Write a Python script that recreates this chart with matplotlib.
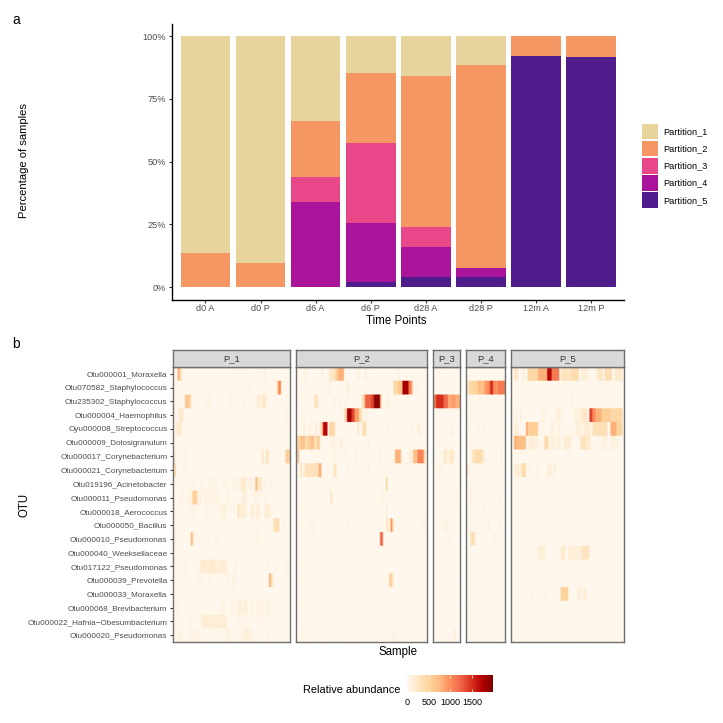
import numpy as np
import matplotlib
matplotlib.use("Agg")
import matplotlib.pyplot as plt
from matplotlib.colors import LinearSegmentedColormap
from matplotlib.patches import Patch

plt.rcParams['font.family'] = ['Liberation Sans', 'DejaVu Sans']

# top panel
time_points = ['d0 A', 'd0 P', 'd6 A', 'd6 P', 'd28 A', 'd28 P', '12m A', '12m P']
partition_1 = [86.3, 90.5, 34.0, 14.7, 16.0, 11.5, 0, 0]
partition_2 = [13.7, 9.5, 22.0, 27.8, 60.0, 80.8, 8.0, 8.3]
partition_3 = [0, 0, 10.0, 32.0, 8.0, 0, 0, 0]
partition_4 = [0, 0, 34.0, 23.5, 12.0, 3.7, 0, 0]
partition_5 = [0, 0, 0, 2.0, 4.0, 4.0, 92.0, 91.7]
partition_names = ['Partition_1', 'Partition_2', 'Partition_3', 'Partition_4', 'Partition_5']
partition_colors = ['#E6D49C', '#F59762', '#E8488A', '#A9149B', '#4F1D8B']

# bottom panel
otus = ['Otu000001_Moraxella', 'Otu070582_Staphylococcus', 'Otu235302_Staphylococcus',
        'Otu000004_Haemophilus', 'Oyu000008_Streptococcus', 'Otu000009_Dolosigranulum',
        'Otu000017_Corynebacterium', 'Otu000021_Corynebacterium', 'Otu019196_Acinetobacter',
        'Otu000011_Pseudomonas', 'Otu000018_Aerococcus', 'Otu000050_Bacillus',
        'Otu000010_Pseudomonas', 'Otu000040_Weeksellaceae', 'Otu017122_Pseudomonas',
        'Otu000039_Prevotella', 'Otu000033_Moraxella', 'Otu000068_Brevibacterium',
        'Otu000022_Hafnia\u2212Obesumbacterium', 'Otu000020_Pseudomonas']
panel_names = ['P_1', 'P_2', 'P_3', 'P_4', 'P_5']
panel_samples = [78, 88, 18, 26, 75]

# abundance per otu row, as runs of samples (first, last, abundance)
p1_runs = [
    [(3, 3, 800), (4, 4, 600), (5, 5, 250), (61, 61, 120), (40, 41, 20), (48, 49, 20), (55, 56, 20)],
    [(27, 27, 60), (69, 69, 300), (70, 71, 1000), (72, 72, 40), (44, 44, 30), (50, 51, 30), (58, 58, 30)],
    [(8, 8, 600), (9, 9, 650), (10, 10, 550), (11, 11, 450), (20, 21, 60), (23, 24, 70), (38, 39, 50), (42, 43, 50),
     (47, 48, 50), (56, 57, 200), (59, 61, 250)],
    [(4, 6, 220), (75, 75, 100)],
    [(2, 5, 200)],
    [],
    [(1, 1, 150), (8, 8, 150), (59, 60, 200), (62, 63, 290), (75, 77, 550)],
    [(1, 1, 500), (8, 8, 100)],
    [(12, 14, 40), (18, 20, 50), (24, 28, 40), (33, 36, 50), (40, 44, 50), (45, 48, 200), (50, 54, 60), (55, 55, 800),
     (56, 58, 250), (60, 61, 60), (64, 66, 40)],
    [(4, 6, 60), (10, 12, 70), (13, 15, 550), (16, 18, 90), (21, 24, 70), (26, 30, 80), (35, 37, 40), (46, 48, 120),
     (54, 56, 80), (61, 63, 50)],
    [(12, 14, 50), (20, 22, 50), (32, 35, 100), (43, 43, 350), (44, 48, 150), (52, 53, 170), (55, 57, 150),
     (61, 62, 150), (63, 64, 170)],
    [(42, 43, 30), (48, 50, 20), (55, 56, 30), (67, 70, 350), (73, 73, 50)],
    [(1, 1, 60), (12, 12, 800), (13, 13, 250), (18, 19, 40), (22, 23, 50), (27, 29, 40), (37, 37, 70), (56, 56, 120)],
    [],
    [(3, 4, 60), (7, 9, 50), (18, 21, 190), (22, 23, 130), (24, 27, 200), (28, 30, 130), (31, 35, 170), (40, 42, 40),
     (62, 63, 30), (68, 70, 30), (75, 76, 40)],
    [(16, 18, 60), (24, 24, 80), (36, 36, 70), (39, 41, 70), (64, 64, 800), (65, 65, 500), (66, 66, 200)],
    [],
    [(2, 4, 30), (8, 10, 25), (32, 34, 70), (38, 40, 40), (43, 45, 120), (47, 49, 130), (52, 53, 100), (56, 57, 70),
     (59, 60, 60), (62, 64, 70)],
    [(2, 5, 30), (10, 13, 30), (19, 25, 170), (26, 29, 140), (30, 35, 160), (42, 50, 30), (56, 60, 30)],
    [(3, 6, 40), (10, 17, 40), (36, 36, 170), (46, 47, 90), (48, 50, 120), (51, 52, 80), (62, 62, 100)],
]
p2_runs = [
    [(6, 6, 150), (17, 17, 130), (22, 25, 250), (26, 27, 500), (28, 31, 800), (41, 41, 180), (46, 46, 180), (68, 68, 70)],
    [(0, 0, 80), (22, 22, 120), (34, 34, 180), (65, 67, 450), (68, 70, 650), (71, 74, 1800), (75, 76, 1100), (77, 77, 600), (80, 80, 60)],
    [(12, 14, 280), (25, 25, 80), (28, 28, 100), (33, 33, 80), (44, 45, 450), (46, 49, 1250), (50, 51, 1400), (52, 55, 1900), (56, 56, 700), (61, 61, 150)],
    [(5, 5, 50), (32, 33, 400), (34, 36, 1800), (37, 38, 1400), (39, 41, 900), (42, 43, 400), (45, 47, 50)],
    [(5, 5, 150), (9, 9, 150), (13, 13, 180), (16, 16, 200), (17, 17, 600), (18, 20, 1700), (22, 25, 450), (41, 41, 250), (44, 46, 350), (61, 61, 60), (70, 70, 50), (77, 77, 100), (81, 82, 120)],
    [(0, 2, 500), (3, 5, 650), (6, 7, 400), (8, 9, 550), (10, 11, 700), (12, 13, 350), (14, 15, 550), (23, 25, 100), (29, 30, 100), (48, 48, 80)],
    [(1, 1, 800), (18, 18, 60), (25, 25, 120), (33, 33, 100), (40, 40, 110), (55, 55, 100), (66, 69, 800), (76, 76, 200), (78, 80, 700), (81, 84, 1050), (85, 85, 600)],
    [(1, 1, 100), (3, 3, 350), (5, 5, 150), (6, 14, 320), (15, 16, 800), (25, 26, 300), (34, 34, 60), (48, 48, 100)],
    [(60, 60, 500)],
    [(23, 23, 300), (57, 57, 130)],
    [(8, 9, 20), (14, 16, 20), (60, 60, 150)],
    [(10, 12, 50), (34, 35, 30), (60, 61, 250), (63, 63, 1000), (64, 64, 500), (85, 85, 150)],
    [(56, 57, 1200)],
    [],
    [(25, 29, 20)],
    [(62, 63, 500), (64, 64, 300)],
    [],
    [(6, 8, 20), (14, 16, 20)],
    [],
    [(4, 6, 15), (18, 20, 15), (36, 37, 15), (65, 65, 150)],
]
p3_runs = [
    [], [],
    [(0, 1, 1100), (2, 6, 1500), (7, 9, 1200), (10, 11, 800), (12, 14, 900), (15, 17, 800)],
    [],
    [(12, 12, 150)],
    [(3, 3, 40)],
    [(7, 8, 220), (9, 10, 100), (11, 13, 230)],
    [(3, 5, 40)],
    [], [(15, 15, 80)], [],
    [(7, 9, 80)],
    [(10, 11, 30)],
    [], [], [], [], [], [],
    [(14, 14, 170)],
]
p4_runs = [
    [],
    [(0, 1, 300), (2, 4, 450), (5, 7, 500), (8, 9, 750), (10, 11, 650), (12, 13, 900), (14, 15, 1000),
     (16, 17, 1500), (18, 19, 1000), (20, 20, 900), (21, 25, 1100)],
    [], [(3, 3, 30)], [(1, 1, 50), (7, 7, 50), (11, 11, 50)],
    [(0, 0, 300)],
    [(4, 5, 300), (6, 9, 420), (10, 11, 300), (16, 16, 60), (20, 20, 80), (23, 23, 80)],
    [(0, 0, 700)],
    [],
    [(3, 3, 70), (22, 22, 60)],
    [(1, 1, 60), (6, 8, 25), (11, 12, 25)],
    [(15, 15, 70), (22, 22, 110)],
    [(3, 5, 350), (17, 19, 30)],
    [], [], [],
    [],
    [(1, 1, 30), (8, 8, 30), (14, 14, 30)],
    [], [],
]
p5_runs = [
    [(2, 4, 250), (8, 8, 150), (11, 17, 450), (18, 23, 800), (24, 26, 1700), (27, 31, 1100), (33, 39, 300),
     (40, 44, 400), (46, 50, 130), (57, 60, 250), (62, 66, 350), (69, 73, 220)],
    [],
    [(16, 16, 30), (24, 26, 25), (40, 40, 80)],
    [(3, 3, 100), (6, 6, 120), (20, 22, 80), (30, 32, 130), (42, 44, 130), (46, 50, 220), (52, 53, 1400), (54, 55, 1000),
     (56, 59, 800), (60, 65, 550), (66, 73, 450)],
    [(2, 4, 120), (10, 10, 900), (11, 17, 550), (20, 20, 80), (26, 28, 90), (31, 32, 90), (43, 46, 130), (48, 52, 170),
     (54, 63, 350), (66, 69, 800), (70, 73, 500)],
    [(2, 3, 800), (4, 9, 700), (12, 14, 170), (15, 17, 110), (22, 24, 400), (26, 28, 130), (30, 32, 110), (35, 39, 170),
     (46, 49, 300), (50, 52, 200), (60, 63, 100), (66, 70, 100)],
    [(12, 13, 20), (30, 31, 20), (38, 39, 20)],
    [(2, 6, 120), (7, 9, 400), (12, 12, 120), (17, 17, 120), (24, 26, 120), (28, 29, 100)],
    [], [], [], [], [],
    [(4, 4, 50), (15, 15, 50), (18, 22, 130), (33, 35, 200), (38, 42, 150), (43, 46, 120), (47, 51, 300),
     (58, 58, 40), (62, 62, 40)],
    [], [],
    [(14, 14, 60), (19, 19, 60), (22, 22, 60), (33, 37, 500), (44, 46, 120), (48, 49, 150)],
    [], [], [],
]
all_runs = [p1_runs, p2_runs, p3_runs, p4_runs, p5_runs]

# facet edges in pixels of the 723 px figure
panel_left = [173, 295.5, 433, 466, 511]
panel_right = [289.5, 427, 460, 505, 624]

W = 723.0
fig = plt.figure(figsize=(7.23, 7.23), dpi=100)


def px_axes(l, t, r, b):
    return fig.add_axes([l / W, 1 - b / W, (r - l) / W, (b - t) / W])


def fig_text(x, y, s, **kw):
    fig.text(x / W, 1 - y / W, s, **kw)


grey_text = '#4D4D4D'
line_col = '#6E6E6E'

# a: stacked bars
ax = px_axes(172.3, 24, 624, 300)
x = np.arange(8)
stack = [partition_5, partition_4, partition_3, partition_2, partition_1]
stack_cols = partition_colors[::-1]
bottom = np.zeros(8)
for vals, col in zip(stack, stack_cols):
    ax.bar(x, vals, 0.9, bottom=bottom, color=col)
    bottom += np.array(vals)
ax.set_xlim(-0.6, 7.593)
ax.set_ylim(-5.05, 104.8)
ax.set_xticks(x)
ax.set_xticklabels(time_points)
ax.set_yticks([0, 25, 50, 75, 100])
ax.set_yticklabels(['0%', '25%', '50%', '75%', '100%'])
ax.tick_params(axis='y', labelsize=6.6, labelcolor=grey_text, length=2.5, width=0.8, color='#333333', pad=1.8)
ax.tick_params(axis='x', labelsize=6.6, labelcolor=grey_text, length=2.5, width=0.8, color='#333333', pad=0.6)
ax.spines['top'].set_visible(False)
ax.spines['right'].set_visible(False)
ax.spines['left'].set_linewidth(1.0)
ax.spines['bottom'].set_linewidth(1.0)
fig_text(396, 321.5, 'Time Points', fontsize=8.3, ha='center', va='center')
fig_text(24, 160, 'Percentage of samples', fontsize=8.1, rotation=90, ha='center', va='center')
fig_text(12, 20, 'a', fontsize=10, ha='left', va='center')
fig_text(12, 344, 'b', fontsize=10, ha='left', va='center')

handles = [Patch(facecolor=c, label=n) for c, n in zip(partition_colors, partition_names)]
fig.legend(handles=handles, loc='center left', bbox_to_anchor=(641.7 / W, 1 - 165.7 / W), frameon=False,
           fontsize=6.6, borderpad=0, borderaxespad=0, handlelength=1.75, handleheight=2.27,
           labelspacing=0.145, handletextpad=0.6)

# b: heatmap facets
oranges = LinearSegmentedColormap.from_list(
    'orrd', ['#FFF7EC', '#FEE8C8', '#FDD49E', '#FDBB84', '#FC8D59', '#EF6548', '#D7301F', '#B30000', '#7F0000'])
vmax = 1980
for i, name in enumerate(panel_names):
    n = panel_samples[i]
    mat = np.zeros((len(otus), n))
    for r, runs in enumerate(all_runs[i]):
        for first, last, val in runs:
            mat[r, first:last + 1] = val
    hx = px_axes(panel_left[i], 367, panel_right[i], 642)
    # repeat rows so the smoothing only softens across samples
    mesh = hx.imshow(np.repeat(mat, 12, axis=0), cmap=oranges, vmin=0, vmax=vmax, aspect='auto',
                     interpolation='bilinear', extent=(0, n, len(otus), 0))
    hx.set_xticks([])
    for s in hx.spines.values():
        s.set_color(line_col)
        s.set_linewidth(1.0)
    if i == 0:
        hx.set_yticks(np.arange(len(otus)) + 0.5)
        hx.set_yticklabels(otus)
        hx.tick_params(axis='y', labelsize=5.9, labelcolor=grey_text, length=2.5, width=0.8, color='#333333', pad=1.5)
    else:
        hx.set_yticks([])
    strip = px_axes(panel_left[i], 350, panel_right[i], 367)
    strip.set_facecolor('#D9D9D9')
    strip.set_xticks([])
    strip.set_yticks([])
    for s in strip.spines.values():
        s.set_color(line_col)
        s.set_linewidth(1.0)
    strip.text(0.5, 0.48, name, transform=strip.transAxes, ha='center', va='center', fontsize=6.8, color='#333333')

fig_text(398, 652, 'Sample', fontsize=8.3, ha='center', va='center')
fig_text(24, 505, 'OTU', fontsize=8.3, rotation=90, ha='center', va='center')

# colour bar
cax = px_axes(407, 675, 493, 692)
cb = fig.colorbar(mesh, cax=cax, orientation='horizontal')
cb.set_ticks([0, 500, 1000, 1500])
cb.outline.set_visible(False)
cb.ax.tick_params(axis='x', direction='in', top=True, bottom=True, color='white', length=2.4, width=0.5,
                  labelsize=6.5, labelcolor='black', pad=4.5)
fig_text(352, 690, 'Relative abundance', fontsize=7.9, ha='center', va='center')

fig.savefig('out.png', dpi=100)
